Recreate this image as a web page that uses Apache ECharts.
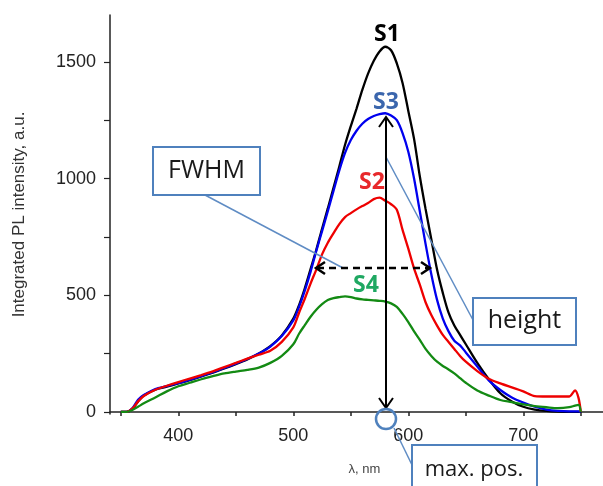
<!DOCTYPE html>
<html>
<head>
<meta charset="utf-8">
<script src="https://cdn.jsdelivr.net/npm/echarts@6/dist/echarts.min.js"></script>
<style>
html,body{margin:0;padding:0;background:#fff;}
#chart{width:603px;height:486px;}
</style>
</head>
<body>
<div id="chart"></div>
<script>
// wavelength (nm)
var wavelength = [350,355,360,365,370,380,390,400,410,420,430,440,450,460,470,480,490,500,505,510,515,520,525,530,535,540,545,550,555,560,565,570,575,580,585,590,595,600,605,610,615,620,625,630,635,640,645,650,660,670,680,690,700,710,720,730,740,745,748,750];
// Integrated PL intensity (a.u.)
var s1 = [0,0,12,45,70,95,108,122,136,152,168,186,205,225,250,282,328,400,458,530,612,695,785,872,962,1052,1145,1225,1300,1380,1450,1505,1545,1565,1550,1494,1410,1290,1170,1010,870,740,610,510,425,370,330,290,210,140,80,45,22,10,4,1,0,0,0,0];
var s2 = [0,0,14,45,68,95,112,128,143,158,174,192,210,228,245,262,300,362,425,485,550,610,675,725,766,805,835,852,868,882,895,912,918,905,890,866,780,700,615,545,470,415,370,330,300,270,240,215,175,142,122,105,88,68,66,66,66,92,60,0];
var s3 = [0,0,15,52,72,98,110,123,138,153,170,188,207,227,250,280,325,392,450,520,600,690,775,860,948,1035,1110,1165,1205,1235,1255,1268,1276,1280,1270,1250,1195,1115,1000,860,720,590,480,400,345,305,285,255,195,135,94,62,40,22,10,4,2,2,2,0];
var s4 = [0,0,8,22,37,62,88,110,125,140,153,165,173,180,190,210,240,290,335,372,408,438,462,480,488,492,495,492,486,482,480,478,476,473,465,450,420,385,345,309,270,240,215,197,182,165,145,125,92,70,51,42,32,25,20,16,20,27,30,0];
var seriesNames = ['S1','S2','S3','S4'];
var xLabelValues = [400,500,600,700];
var xTickValues = [350,400,450,500,550,600,650,700,750];
var yLabelValues = [0,500,1000,1500];
var yTickValues = [0,250,500,750,1000,1250,1500];

function pairs(arr){ return wavelength.map(function(w,i){ return [w, arr[i]]; }); }

var chart = echarts.init(document.getElementById('chart'), null, {renderer:'canvas'});
var boxBlue = '#4f81bd';
var connBlue = '#5f8cc4';
var boxFont = '25px "Open Sans", sans-serif';
var boxFontSm = '22px "Open Sans", sans-serif';
var lblFont = 'bold 23px "Open Sans", sans-serif';
var fam = 'Liberation Sans, Arial, sans-serif';

function mkLine(x1,y1,x2,y2,stroke,w,dash){
  return {type:'line', z:100, shape:{x1:x1,y1:y1,x2:x2,y2:y2}, style:{stroke:stroke, lineWidth:w, lineDash:dash||null}};
}
function mkPoly(pts,stroke,w){
  return {type:'polyline', z:100, shape:{points:pts}, style:{stroke:stroke, lineWidth:w, fill:null}};
}
function mkText(txt,x,y,font,fill){
  return {type:'text', z:102, style:{text:txt, x:x, y:y, font:font, fill:fill, align:'center', verticalAlign:'middle'}};
}
function mkRect(x,y,w,h){
  return {type:'rect', z:101, shape:{x:x,y:y,width:w,height:h}, style:{fill:'#fff', stroke:boxBlue, lineWidth:2}};
}
function plain(v){ return String(v); }

var option = {
  animation:false,
  backgroundColor:'#fff',
  grid:{left:110, right:0, top:15, bottom:72, containLabel:false},
  xAxis:{
    type:'value', min:340.6, max:769.3,
    name:'λ, nm', nameLocation:'middle', nameGap:49,
    nameTextStyle:{fontFamily:fam, fontSize:13, color:'#444', padding:[0,0,0,16]},
    axisLine:{show:true, lineStyle:{color:'#222', width:1.5}},
    axisTick:{show:true, inside:false, length:4, customValues:xTickValues, lineStyle:{color:'#222', width:1.5}},
    axisLabel:{customValues:xLabelValues, formatter:plain, margin:13, fontFamily:fam, fontSize:18, color:'#222'},
    splitLine:{show:false}
  },
  yAxis:{
    type:'value', min:-9, max:1701,
    name:'Integrated PL intensity, a.u.', nameLocation:'middle', nameGap:82,
    nameTextStyle:{fontFamily:fam, fontSize:17, color:'#333'},
    axisLine:{show:true, lineStyle:{color:'#222', width:1.5}},
    axisTick:{show:true, length:6, customValues:yTickValues, lineStyle:{color:'#222', width:1.2}},
    axisLabel:{customValues:yLabelValues, formatter:plain, margin:14, fontFamily:fam, fontSize:18, color:'#222'},
    splitLine:{show:false}
  },
  series:[
    {name:seriesNames[0], type:'line', data:pairs(s1), showSymbol:false, smooth:0.3, lineStyle:{color:'#000', width:2.3}, itemStyle:{color:'#000'}},
    {name:seriesNames[2], type:'line', data:pairs(s3), showSymbol:false, smooth:0.3, lineStyle:{color:'#0000ee', width:2.3}, itemStyle:{color:'#0000ee'}},
    {name:seriesNames[1], type:'line', data:pairs(s2), showSymbol:false, smooth:0.3, lineStyle:{color:'#ee0000', width:2.3}, itemStyle:{color:'#ee0000'}},
    {name:seriesNames[3], type:'line', data:pairs(s4), showSymbol:false, smooth:0.3, lineStyle:{color:'#138a13', width:2.3}, itemStyle:{color:'#138a13'}}
  ],
  graphic:[
    // connectors
    mkLine(205,195,343,268,connBlue,1.5),
    mkLine(386,157,473,320,connBlue,1.5),
    mkLine(394,428,413,467,connBlue,1.5),
    // vertical height arrow
    mkLine(386,118,386,407,'#000',2),
    mkPoly([[379,127],[386,117],[393,127]],'#000',2),
    mkPoly([[379,398],[386,408],[393,398]],'#000',2),
    // FWHM dashed arrow
    mkLine(317,268,429,268,'#000',2.5,[7,5]),
    mkPoly([[325,262],[316,268],[325,274]],'#000',2.5),
    mkPoly([[421,262],[430,268],[421,274]],'#000',2.5),
    // max pos circle
    {type:'circle', z:100, shape:{cx:386, cy:419, r:10}, style:{fill:null, stroke:boxBlue, lineWidth:2.5}},
    // boxes
    mkRect(153,147,107,48), mkText('FWHM',206.5,171,boxFont,'#1a1a1a'),
    mkRect(473,298,103,47), mkText('height',524.5,321,boxFont,'#1a1a1a'),
    mkRect(412,445,125,60), mkText('max. pos.',474,470,boxFontSm,'#1a1a1a'),
    // series labels
    mkText(seriesNames[0],387,34,lblFont,'#000'),
    mkText(seriesNames[2],386,102,lblFont,'#3b66ad'),
    mkText(seriesNames[1],372,182,lblFont,'#e8282b'),
    mkText(seriesNames[3],366,285,lblFont,'#1fa862')
  ]
};
chart.setOption(option);
</script>
</body>
</html>
